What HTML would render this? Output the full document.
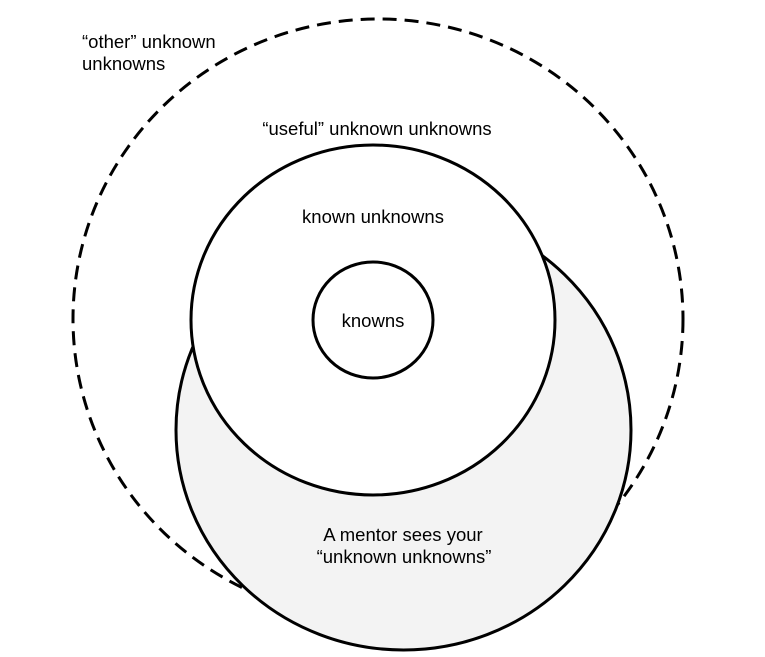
<!DOCTYPE html>
<html><head><meta charset="utf-8"><style>
html,body{margin:0;padding:0;background:#fff;}
svg{display:block;}
text{font-family:"Liberation Sans",Arial,sans-serif;font-size:18.5px;fill:#000;}
</style></head><body>
<svg width="765" height="657" viewBox="0 0 765 657">
<rect width="765" height="657" fill="#fff"/>
<ellipse cx="378" cy="319" rx="305" ry="300" fill="none" stroke="#000" stroke-width="3" stroke-dasharray="14,8"/>
<ellipse cx="403.5" cy="430" rx="227.5" ry="220" fill="#f3f3f3" stroke="#000" stroke-width="3"/>
<ellipse cx="373" cy="320" rx="182" ry="175" fill="#fff" stroke="#000" stroke-width="3"/>
<ellipse cx="373" cy="320" rx="60" ry="58" fill="#fff" stroke="#000" stroke-width="3"/>
<text x="82" y="48">“other” unknown</text>
<text x="82" y="70">unknowns</text>
<text x="377" y="135" text-anchor="middle">“useful” unknown unknowns</text>
<text x="373" y="223" text-anchor="middle">known unknowns</text>
<text x="373" y="327" text-anchor="middle">knowns</text>
<text x="403" y="541" text-anchor="middle">A mentor sees your</text>
<text x="404" y="563" text-anchor="middle">“unknown unknowns”</text>
</svg>
</body></html>
